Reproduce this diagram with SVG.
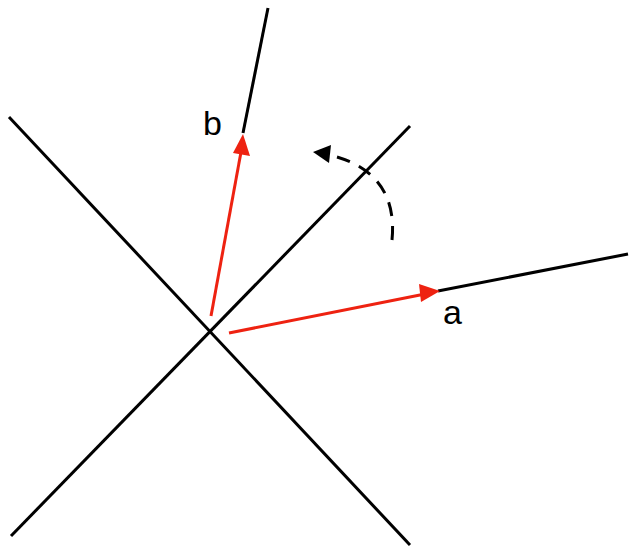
<svg xmlns="http://www.w3.org/2000/svg" width="637" height="554" viewBox="0 0 637 554">
<style>.k{stroke:#000;stroke-width:3;fill:none}.r{stroke:#ee2211;stroke-width:3;fill:none}text{font-family:"Liberation Sans",Arial,sans-serif;font-size:34px;fill:#000}</style>
<rect width="637" height="554" fill="#fff"/>
<g id="connectors">
<line class="k" x1="410" y1="126" x2="11" y2="536"/>
<line class="k" x1="9" y1="117" x2="410" y2="545"/>
<line class="k" x1="243" y1="133" x2="268" y2="8"/>
<line class="k" x1="438" y1="291" x2="628" y2="254"/>
<line class="r" x1="211" y1="316" x2="241" y2="152"/>
<path d="M243,134L250,156L233,153z" fill="#ee2211"/>
<line class="r" x1="229" y1="333" x2="425" y2="294"/>
<path d="M440,291L421,302L419,284z" fill="#ee2211"/>
<path class="k" stroke-dasharray="14,10" d="M392,240C396,200 380,170 337,157"/>
<path d="M313,152L331,145L329,163z" fill="#000"/>
</g>
<g id="labels">
<text x="203" y="135">b</text>
<text x="443" y="324">a</text>
</g>
</svg>
